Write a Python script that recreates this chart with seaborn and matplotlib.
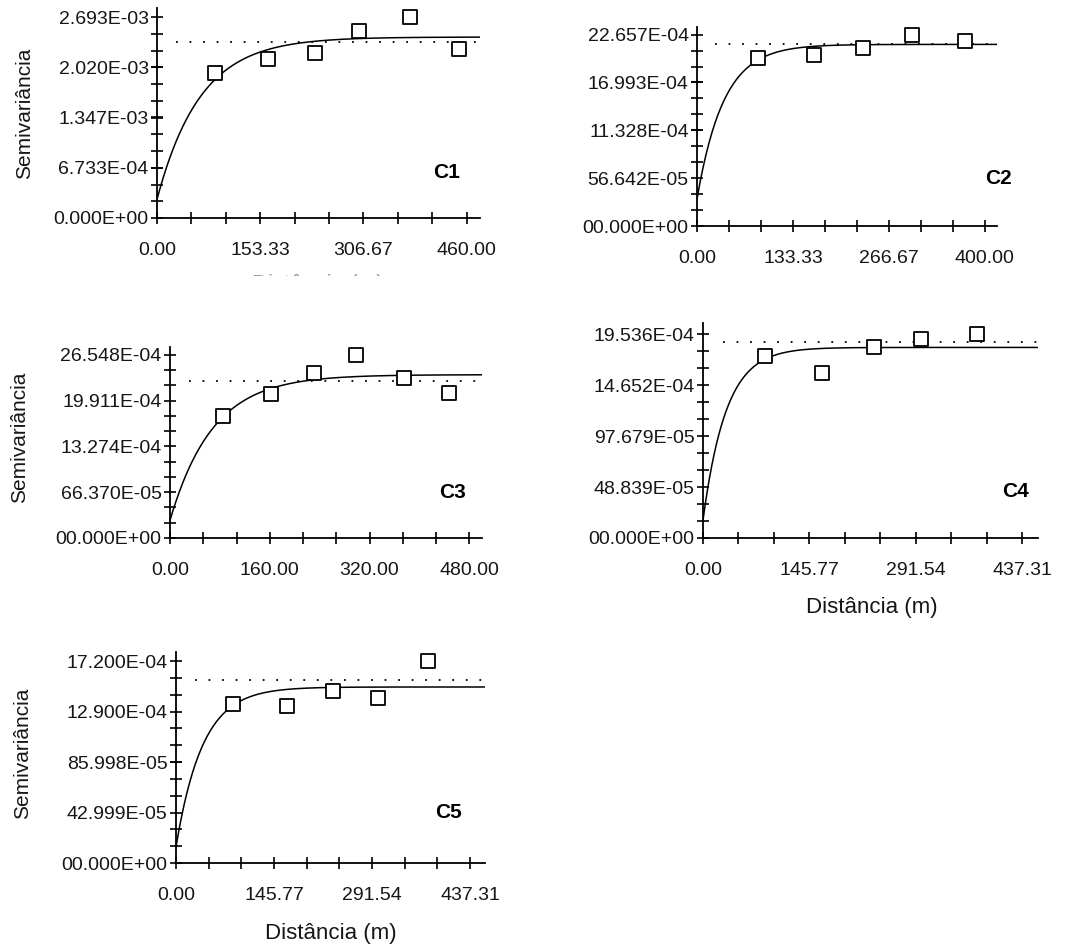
import numpy as np
import pandas as pd
import matplotlib
matplotlib.use("Agg")
import matplotlib.pyplot as plt
import seaborn as sns
from matplotlib.ticker import FixedLocator
from matplotlib.transforms import Bbox

sns.set_style("ticks")
plt.rcParams['font.family'] = ['Liberation Sans', 'DejaVu Sans']

# ---- data (lag distance in m, semivariance) ----
c1_lag = [85.6, 164.7, 235.0, 300.7, 375.9, 448.1]
c1_gamma = [1.943e-3, 2.135e-3, 2.211e-3, 2.510e-3, 2.693e-3, 2.269e-3]
c1_model = [0.25e-3, 2.425e-3, 193.0]   # nugget, sill, range (exponential)
c1_var = 2.358e-3
c1_xticks = [0.0, 153.33, 306.67, 460.0]
c1_xlabels = ["0.00", "153.33", "306.67", "460.00"]
c1_yticks = [0.0, 6.733e-4, 1.347e-3, 2.020e-3, 2.693e-3]
c1_ylabels = ["0.000E+00", "6.733E-04", "1.347E-03", "2.020E-03", "2.693E-03"]

c2_lag = [84.4, 162.2, 230.8, 299.0, 373.0]
c2_gamma = [19.94e-4, 20.21e-4, 21.08e-4, 22.58e-4, 21.91e-4]
c2_model = [3.2e-4, 21.5e-4, 111.0]
c2_var = 21.51e-4
c2_xticks = [0.0, 133.33, 266.67, 400.0]
c2_xlabels = ["0.00", "133.33", "266.67", "400.00"]
c2_yticks = [0.0, 5.6642e-4, 11.328e-4, 16.993e-4, 22.657e-4]
c2_ylabels = ["00.000E+00", "56.642E-05", "11.328E-04", "16.993E-04", "22.657E-04"]

c3_lag = [84.5, 162.1, 231.7, 297.5, 374.6, 447.4]
c3_gamma = [17.67e-4, 20.80e-4, 23.89e-4, 26.55e-4, 23.17e-4, 21.00e-4]
c3_model = [2.56e-4, 23.65e-4, 206.0]
c3_var = 22.69e-4
c3_xticks = [0.0, 160.0, 320.0, 480.0]
c3_xlabels = ["0.00", "160.00", "320.00", "480.00"]
c3_yticks = [0.0, 6.637e-4, 13.274e-4, 19.911e-4, 26.548e-4]
c3_ylabels = ["00.000E+00", "66.370E-05", "13.274E-04", "19.911E-04", "26.548E-04"]

c4_lag = [85.4, 163.4, 234.2, 299.0, 375.2]
c4_gamma = [17.39e-4, 15.79e-4, 18.25e-4, 19.06e-4, 19.57e-4]
c4_model = [1.7e-4, 18.25e-4, 95.0]
c4_var = 18.74e-4
c4_xticks = [0.0, 145.77, 291.54, 437.31]
c4_xlabels = ["0.00", "145.77", "291.54", "437.31"]
c4_yticks = [0.0, 4.8839e-4, 9.7679e-4, 14.652e-4, 19.536e-4]
c4_ylabels = ["00.000E+00", "48.839E-05", "97.679E-05", "14.652E-04", "19.536E-04"]

c5_lag = [85.3, 165.6, 234.0, 301.0, 375.3]
c5_gamma = [13.57e-4, 13.34e-4, 14.62e-4, 14.08e-4, 17.20e-4]
c5_model = [1.36e-4, 14.99e-4, 118.0]
c5_var = 15.55e-4
c5_xticks = [0.0, 145.77, 291.54, 437.31]
c5_xlabels = ["0.00", "145.77", "291.54", "437.31"]
c5_yticks = [0.0, 4.2999e-4, 8.5998e-4, 12.900e-4, 17.200e-4]
c5_ylabels = ["00.000E+00", "42.999E-05", "85.998E-05", "12.900E-04", "17.200E-04"]

W, H = 1072, 946
fig = plt.figure(figsize=(W / 100, H / 100), dpi=100)
ink = "#161616"


def panel(box, lag, gamma, model, var, xt, xl, yt, yl, tag, tag_xy,
          ylab=None, xlab=None):
    left, top, right, bottom, xmax, ymax = box
    ax = fig.add_axes([left / W, 1 - bottom / H, (right - left) / W, (bottom - top) / H])
    ax.set_facecolor("white")

    # exponential variogram model
    c0, sill, rng = model
    h = np.linspace(0, xmax, 300)
    curve = pd.DataFrame({"h": h, "g": c0 + (sill - c0) * (1 - np.exp(-3 * h / rng))})
    sns.lineplot(data=curve, x="h", y="g", ax=ax, color="black", lw=1.1)
    ax.axhline(var, xmin=0.06, xmax=1, color="black", lw=1.3, ls=(0, (1, 6.5)))

    pts = pd.DataFrame({"lag": lag, "gamma": gamma})
    sns.scatterplot(data=pts, x="lag", y="gamma", ax=ax, marker="s", s=100,
                    facecolor="white", edgecolor="black", linewidth=1.3, zorder=5)

    ax.set_xlim(0, xmax)
    ax.set_ylim(0, ymax)
    ax.set_xticks(xt)
    ax.set_xticklabels(xl)
    ax.set_yticks(yt)
    ax.set_yticklabels(yl)
    ax.xaxis.set_minor_locator(FixedLocator(np.arange(1, 10) * xt[-1] / 9))
    ax.yaxis.set_minor_locator(FixedLocator(np.arange(1, 13) * yt[-1] / 12))
    ax.tick_params(which="both", direction="inout", length=8, width=1.2,
                   color="black", labelsize=14, labelcolor=ink)
    ax.tick_params(axis="x", which="both", pad=13)
    ax.tick_params(axis="y", which="both", pad=2)
    for s in ["top", "right"]:
        ax.spines[s].set_visible(False)
    for s in ["left", "bottom"]:
        ax.spines[s].set_linewidth(1.3)
        ax.spines[s].set_color("black")
    ax.set_xlabel("")
    ax.set_ylabel("")

    fig.text(tag_xy[0] / W, 1 - tag_xy[1] / H, tag, fontsize=15, fontweight="bold",
             ha="center", va="center", color="black")
    if ylab is not None:
        fig.text(ylab[0] / W, 1 - ylab[1] / H, "Semivariância", rotation=90,
                 fontsize=15, ha="center", va="center", color=ink)
    if xlab is not None:
        fig.text(xlab[0] / W, 1 - xlab[1] / H, "Distância (m)",
                 fontsize=16, ha="center", va="center", color=ink)
    return ax


panel((157, 8, 480, 218, 479.8, 2.814e-3), c1_lag, c1_gamma, c1_model, c1_var,
      c1_xticks, c1_xlabels, c1_yticks, c1_ylabels, "C1", (447, 172), ylab=(25, 113))
panel((697, 27, 997, 226, 417.0, 23.56e-4), c2_lag, c2_gamma, c2_model, c2_var,
      c2_xticks, c2_xlabels, c2_yticks, c2_ylabels, "C2", (998, 178))
panel((170, 347, 482, 538, 500.3, 27.66e-4), c3_lag, c3_gamma, c3_model, c3_var,
      c3_xticks, c3_xlabels, c3_yticks, c3_ylabels, "C3", (453, 492), ylab=(20, 437))
panel((703, 323, 1038, 538, 458.8, 20.59e-4), c4_lag, c4_gamma, c4_model, c4_var,
      c4_xticks, c4_xlabels, c4_yticks, c4_ylabels, "C4", (1015, 491), xlab=(872, 607))
panel((176, 652, 485, 863, 459.6, 17.97e-4), c5_lag, c5_gamma, c5_model, c5_var,
      c5_xticks, c5_xlabels, c5_yticks, c5_ylabels, "C5", (448, 813), ylab=(23, 753),
      xlab=(331, 933))

# C1 x label is cut off in the source image: only its top edge shows
cut = fig.text(318 / W, 1 - 284 / H, "Distância (m)", fontsize=16, ha="center",
               va="center", color="#9a9a9a")
cut.set_clip_box(Bbox([[0, H - 276], [W, H - 270]]))
cut.set_clip_on(True)

fig.savefig("out.png", dpi=100, facecolor="white")
